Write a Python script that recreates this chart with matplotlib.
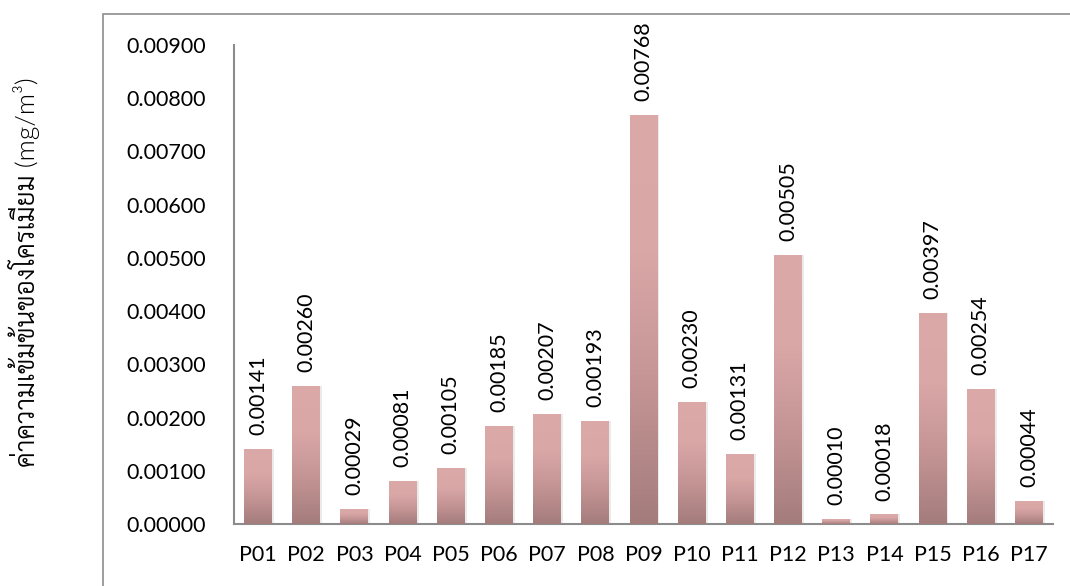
import matplotlib
matplotlib.use("Agg")
import matplotlib.pyplot as plt
from matplotlib import font_manager
from matplotlib.colors import LinearSegmentedColormap
from matplotlib.patches import Rectangle
import numpy as np

# chromium concentration at each sampling point
points = ["P01", "P02", "P03", "P04", "P05", "P06", "P07", "P08", "P09",
          "P10", "P11", "P12", "P13", "P14", "P15", "P16", "P17"]
values = [0.00141, 0.00260, 0.00029, 0.00081, 0.00105, 0.00185, 0.00207,
          0.00193, 0.00768, 0.00230, 0.00131, 0.00505, 0.00010, 0.00018,
          0.00397, 0.00254, 0.00044]
yticks = [0.000, 0.001, 0.002, 0.003, 0.004, 0.005, 0.006, 0.007, 0.008, 0.009]

# pick a looped Thai font if one is installed
names = {f.name for f in font_manager.fontManager.ttflist}
thai_font = "DejaVu Sans"
for cand in ["Sarabun", "Noto Sans Thai Looped", "Thasadith", "Niramit", "K2D",
             "KoHo", "Krub", "Noto Sans Thai", "Anuphan", "Bai Jamjuree"]:
    if cand in names:
        thai_font = cand
        break
plt.rcParams["font.family"] = ["Lato", thai_font, "DejaVu Sans"]

fig = plt.figure(figsize=(10.7, 5.86), dpi=100)
ax = fig.add_axes([234/1070, 62/586, (1053-234)/1070, (524-45)/586])

# outer frame of the chart
fig.patches.append(Rectangle((103/1070, -0.2), 1.0, 1.2 - 14/586,
                             transform=fig.transFigure, fill=False,
                             edgecolor="#8c8c8c", linewidth=1.2))

cmap = LinearSegmentedColormap.from_list("bar", ["#a47c7c", "#c49494", "#daa7a7", "#dca9a9"])
grad = np.linspace(0, 1, 256).reshape(-1, 1)

x = np.arange(len(points))
w = 0.58
bars = ax.bar(x, values, width=w, facecolor="none", edgecolor="none", zorder=3)
for xi, v, b in zip(x, values, bars):
    # soft shadow to the right
    ax.add_patch(Rectangle((xi - w/2 + 0.04, 0), w, v, facecolor="#000000",
                           alpha=0.08, edgecolor="none", zorder=2))
    im = ax.imshow(grad, cmap=cmap, origin="lower", aspect="auto",
                   extent=(xi - w/2, xi + w/2, 0, v), zorder=3)
    im.set_clip_path(b)
    ax.annotate(f"{v:.5f}", (xi, v), xytext=(0, 10), textcoords="offset points",
                rotation=90, ha="center", va="bottom", fontsize=15.5, zorder=4)

ax.set_xlim(-0.5, len(points) - 0.5)
ax.set_ylim(0, 0.009)
ax.set_xticks(x)
ax.set_xticklabels(points, fontsize=15.5)
ax.set_yticks(yticks)
ax.set_yticklabels([f"{t:.5f}" for t in yticks], fontsize=15.5)
ax.tick_params(axis="both", length=0)
ax.tick_params(axis="y", pad=20)
ax.tick_params(axis="x", pad=15)

for s in ["top", "right"]:
    ax.spines[s].set_visible(False)
for s in ["left", "bottom"]:
    ax.spines[s].set_color("#8c8c8c")
    ax.spines[s].set_linewidth(1.5)

fig.text(24/1070, 1 - 272/586, "ค่าความเข้มข้นของโครเมียม (mg/m³)",
         rotation=90, ha="center", va="center", fontsize=19, fontweight=300,
         family=["Lato", thai_font, "DejaVu Sans"])

fig.savefig("out.png", dpi=100)
